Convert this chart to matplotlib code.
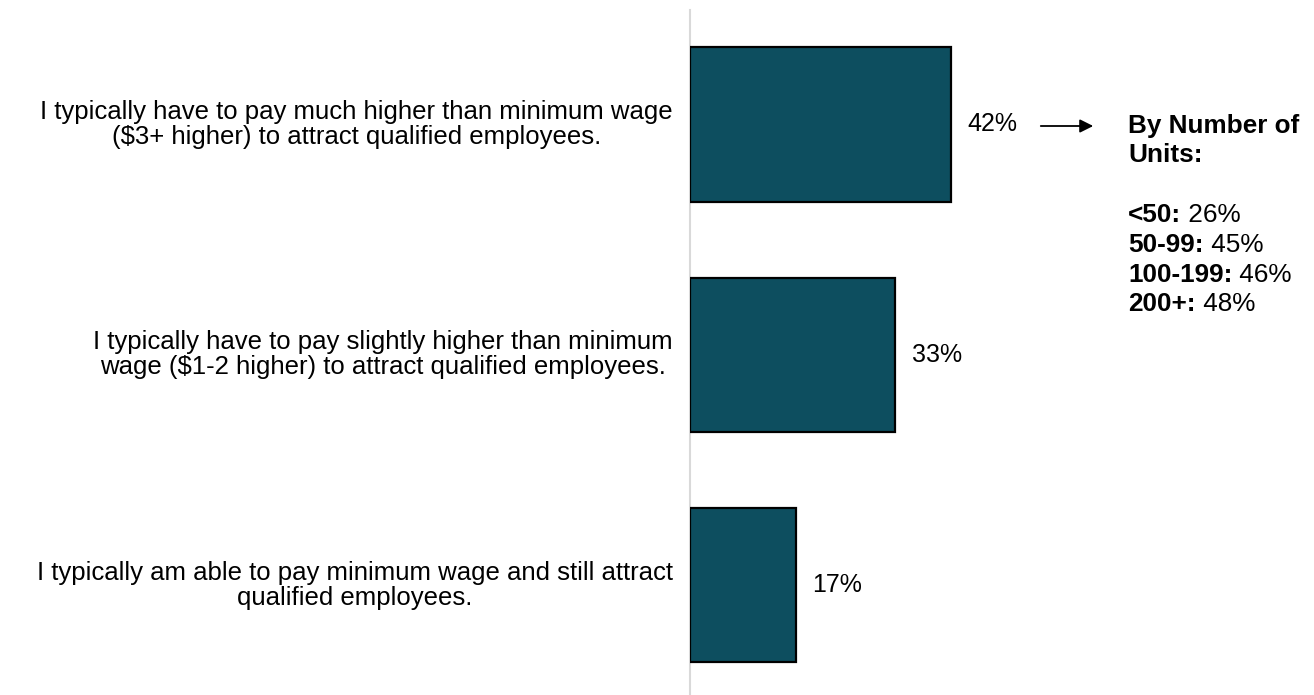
import matplotlib.pyplot as plt

plt.rcParams['font.family'] = ['Liberation Sans', 'DejaVu Sans']

labels = [
    "I typically have to pay much higher than minimum wage\n($3+ higher) to attract qualified employees.",
    "I typically have to pay slightly higher than minimum\nwage ($1-2 higher) to attract qualified employees.",
    "I typically am able to pay minimum wage and still attract\nqualified employees.",
]
values = [42, 33, 17]

unit_groups = ["<50:", "50-99:", "100-199:", "200+:"]
unit_values = [26, 45, 46, 48]

bar_color = '#0d4e5f'
fs_cat = 18.5
fs = 18
fs_units = 18.8

fig = plt.figure(figsize=(13.14, 6.95), dpi=100)
W, H = 1314, 695
ax = fig.add_axes([690 / W, 0, (1311 - 690) / W, (695 - 9.5) / H])

ypos = list(range(len(values)))
ax.barh(ypos, values, height=0.67, color=bar_color, edgecolor='black', linewidth=1.6, zorder=3)
ax.set_xlim(0, 100)
ax.set_ylim(2.476, -0.498)

for s in ['top', 'right', 'bottom']:
    ax.spines[s].set_visible(False)
ax.spines['left'].set_color('#d9d9d9')
ax.spines['left'].set_linewidth(1.5)
ax.set_xticks([])
ax.set_yticks([])

# category labels, right-aligned to the left of the axis
for y, lab in zip(ypos, labels):
    ax.annotate(lab, xy=(0, y), xycoords='data', xytext=(-17, 0), textcoords='offset pixels',
                ha='right', va='center', multialignment='center', fontsize=fs_cat,
                linespacing=1.05)

# value labels at bar ends
for y, v in zip(ypos, values):
    ax.annotate(f"{v}%", xy=(v, y), xytext=(17, 0), textcoords='offset pixels',
                ha='left', va='center', fontsize=fs)

# arrow pointing to the breakdown
ax.annotate('', xy=(1096 / W, 1 - 126 / H), xycoords='figure fraction',
            xytext=(1038 / W, 1 - 126 / H), textcoords='figure fraction',
            arrowprops=dict(arrowstyle='-|>', color='black', lw=1.3, mutation_scale=20))

x0 = 1128 / W
fig.text(x0, 1 - 126 / H, "By Number of", fontsize=fs_units, fontweight='bold', ha='left', va='center')
fig.text(x0, 1 - 155 / H, "Units:", fontsize=fs_units, fontweight='bold', ha='left', va='center')

row_y = [222, 252, 282, 311]
for g, v, ry in zip(unit_groups, unit_values, row_y):
    t = fig.text(x0, 1 - ry / H, g, fontsize=fs_units, fontweight='bold', ha='left', va='baseline')
    ax.annotate(f" {v}%", xy=(1, 0), xycoords=t, ha='left', va='bottom', fontsize=fs_units)

fig.savefig('out.png', dpi=100, facecolor='white')
